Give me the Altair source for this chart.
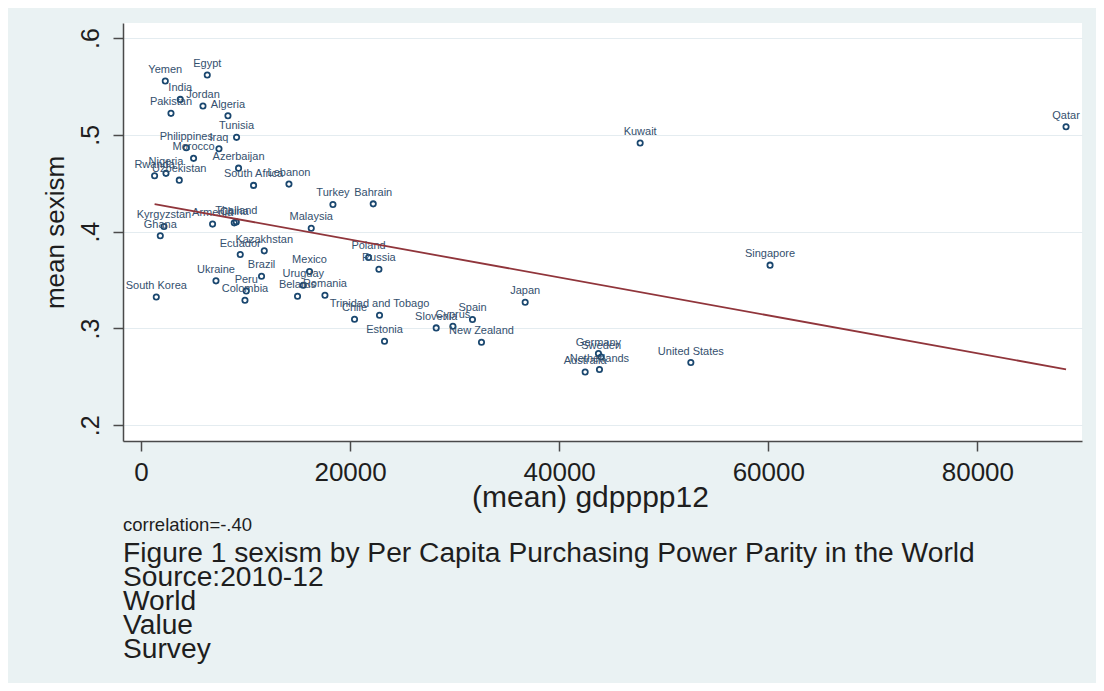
import altair as alt
import pandas as pd

countries = ["Yemen", "Egypt", "India", "Jordan", "Pakistan", "Algeria", "Tunisia",
             "Philippines", "Iraq", "Morocco", "Azerbaijan", "Nigeria", "Rwanda",
             "Uzbekistan", "South Africa", "Lebanon", "Turkey", "Bahrain", "Malaysia",
             "Thailand", "China", "Kyrgyzstan", "Armenia", "Ghana", "Ecuador",
             "Kazakhstan", "Brazil", "Ukraine", "Mexico", "Peru", "Colombia",
             "South Korea", "Uruguay", "Belarus", "Romania", "Poland", "Russia",
             "Chile", "Trinidad and Tobago", "Estonia", "Slovenia", "Cyprus", "Spain",
             "New Zealand", "Japan", "Kuwait", "Qatar", "Singapore", "United States",
             "Germany", "Sweden", "Netherlands", "Australia"]
gdpppp12 = [2324, 6339, 3758, 5928, 2868, 8318, 9141,
            4331, 7459, 5029, 9332, 2390, 1301,
            3662, 10767, 14152, 18359, 22213, 16284,
            9113, 8921, 2199, 6847, 1846, 9494,
            11790, 11531, 7172, 16122, 10068, 9945,
            1463, 15519, 14974, 17595, 21763, 22758,
            20425, 22815, 23293, 28237, 29833, 31707,
            32568, 36747, 47744, 88481, 60169, 52592,
            43757, 44014, 43853, 42484]
sexism = [0.5556, 0.5618, 0.5366, 0.5297, 0.5222, 0.5197, 0.4974,
          0.4866, 0.4856, 0.4757, 0.4656, 0.4602, 0.4577,
          0.4532, 0.4478, 0.4491, 0.4281, 0.4287, 0.4036,
          0.4101, 0.4091, 0.4054, 0.4078, 0.3957, 0.3764,
          0.3802, 0.3540, 0.3492, 0.3589, 0.3388, 0.3292,
          0.3326, 0.3447, 0.3333, 0.3344, 0.3734, 0.3612,
          0.3096, 0.3137, 0.2868, 0.3006, 0.3023, 0.3093,
          0.2858, 0.3271, 0.4915, 0.5083, 0.3654, 0.2648,
          0.2741, 0.2706, 0.2576, 0.2551]

x_ticks = [0, 20000, 40000, 60000, 80000]
y_ticks = [0.2, 0.3, 0.4, 0.5, 0.6]
note_text = ["correlation=-.40"]
caption_lines = ["Figure 1 sexism by Per Capita Purchasing Power Parity in the World",
                 "Source:2010-12", "World", "Value", "Survey"]

df = pd.DataFrame({"country": countries, "gdp": gdpppp12, "sexism": sexism})

NAVY = "#1a476f"
FONT = "Liberation Sans"
INK = "#1e1e1e"

x_enc = alt.X("gdp:Q", scale=alt.Scale(domain=[-1721, 90007], nice=False, zero=False),
              axis=alt.Axis(values=x_ticks, format="d", title="(mean) gdpppp12",
                            grid=False, tickSize=10, labelPadding=8,
                            labelFontSize=26, titleFontSize=30, titlePadding=-3,
                            titleFontWeight="normal", titleX=467,
                            labelColor=INK, titleColor=INK,
                            domainColor="#4a4a4a", tickColor="#4a4a4a",
                            domainWidth=1.5, tickWidth=1.5, labelFont=FONT, titleFont=FONT))
y_enc = alt.Y("sexism:Q", scale=alt.Scale(domain=[0.1838, 0.6155], nice=False, zero=False),
              axis=alt.Axis(values=y_ticks, title="mean sexism",
                            labelExpr="replace(format(datum.value, '.1f'), '0.', '.')",
                            labelAngle=270, labelAlign="center", labelBaseline="bottom",
                            grid=True, gridColor="#e4ecf0", gridWidth=1.2,
                            tickSize=10, labelPadding=10,
                            labelFontSize=25, titleFontSize=26, titlePadding=10,
                            titleFontWeight="normal",
                            labelColor=INK, titleColor=INK,
                            domainColor="#4a4a4a", tickColor="#4a4a4a",
                            domainWidth=1.5, tickWidth=1.5, labelFont=FONT, titleFont=FONT))

base = alt.Chart(df)

points = base.mark_point(shape="circle", filled=False, size=28, strokeWidth=1.8,
                         color=NAVY, opacity=1).encode(x=x_enc, y=y_enc)

labels = base.mark_text(align="center", baseline="middle", dy=-11, fontSize=11,
                        font=FONT, color="#34506e").encode(
    x="gdp:Q", y="sexism:Q", text="country:N")

fit = base.transform_regression("gdp", "sexism").mark_line(
    color="#90353b", strokeWidth=1.8).encode(x="gdp:Q", y="sexism:Q")

note = alt.Chart(pd.DataFrame({"t": note_text})).mark_text(
    align="left", baseline="alphabetic", fontSize=18.5, font=FONT, color=INK).encode(
    x=alt.value(0), y=alt.value(507.7), text="t:N")

caption = alt.Chart(pd.DataFrame({"t": ["\n".join(caption_lines)]})).mark_text(
    align="left", baseline="alphabetic", fontSize=28.2, font=FONT, color=INK,
    lineBreak="\n", lineHeight=24).encode(
    x=alt.value(0), y=alt.value(538.7), text="t:N")

border = alt.Chart(pd.DataFrame({"a": [0]})).mark_rule(color="#b4b6b8", strokeWidth=3).encode(
    x=alt.value(-119), y=alt.value(-23), y2=alt.value(668))

chart = alt.layer(border, points, labels, fit, note, caption).properties(
    width=959, height=418,
    autosize=alt.AutoSizeParams(type="none"),
    padding={"left": 115, "top": 15, "right": 14, "bottom": 242},
    background="#eaf2f3",
).configure_view(fill="white", strokeWidth=0)

chart.save("out.html", embed_options={"renderer": "svg", "actions": False})
